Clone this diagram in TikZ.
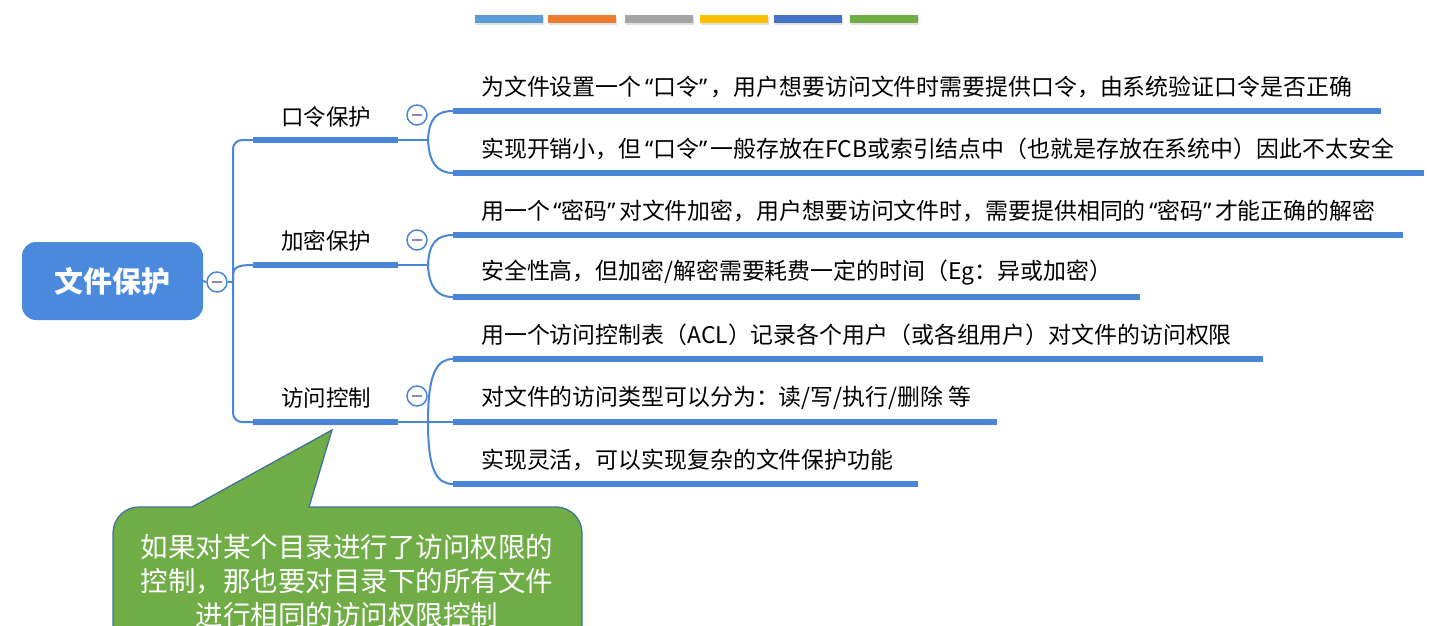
\documentclass[tikz,border=0pt]{standalone}
\usepackage{fontspec}
\setmainfont{Noto Sans CJK SC}
\newfontfamily\qfont{Noto Sans}
\newcommand{\lquo}{\kern3.5pt{\qfont “}}
\newcommand{\rquo}{{\qfont ”}\kern3.5pt}
\usetikzlibrary{shadows}
\definecolor{lineblue}{HTML}{4A86D8}
\definecolor{rootblue}{HTML}{4A89DC}
\definecolor{minuscol}{HTML}{8A8AB8}
\definecolor{cbA}{HTML}{5B9BD5}
\definecolor{cbB}{HTML}{ED7D31}
\definecolor{cbC}{HTML}{A5A5A5}
\definecolor{cbD}{HTML}{FFC000}
\definecolor{cbE}{HTML}{4472C4}
\definecolor{cbF}{HTML}{70AD47}
\definecolor{notegreen}{HTML}{70AD47}
\definecolor{noteborder}{HTML}{41719C}
\begin{document}
\begin{tikzpicture}[x=1pt,y=-1pt,
  conn/.style={draw=lineblue,line width=2pt},
  branchbar/.style={draw=lineblue,line width=6pt},
  leafbar/.style={draw=lineblue,line width=5.5pt},
  colorbar/.style={draw=none,drop shadow={opacity=0.25,shadow xshift=1pt,shadow yshift=-2pt}},
  rootbox/.style={fill=rootblue,rounded corners=14pt,minimum width=181pt,minimum height=78pt,
    text=white,font=\fontsize{29}{32}\selectfont\bfseries,inner sep=0pt},
  collapse/.style={circle,draw=lineblue,line width=1.5pt,fill=white,minimum size=20pt,inner sep=0pt,
    path picture={\draw[minuscol,line width=1.6pt]
      ([xshift=-5pt]path picture bounding box.center) -- ([xshift=5pt]path picture bounding box.center);}},
  branchtext/.style={font=\fontsize{22.5}{24}\selectfont,inner sep=0pt},
  leaftext/.style={font=\fontsize{22.9}{24}\selectfont,inner sep=0pt,anchor=west},
  notetext/.style={font=\fontsize{27.5}{34}\selectfont,text=white,align=center,inner sep=0pt}
]
\useasboundingbox (0,0) rectangle (1429,626);

% colour bars at the top
\fill[cbA,colorbar] (475,15) rectangle (543,23);
\fill[cbB,colorbar] (548,15) rectangle (616,23);
\fill[cbC,colorbar] (625,15) rectangle (693,23);
\fill[cbD,colorbar] (700,15) rectangle (768,23);
\fill[cbE,colorbar] (774,15) rectangle (842,23);
\fill[cbF,colorbar] (850,15) rectangle (918,23);

% coordinates
\coordinate (trunkmid) at (233,282);
\coordinate (b1s) at (253,140); \coordinate (b1e) at (398,140); \coordinate (b1j) at (428,140);
\coordinate (b2s) at (253,265); \coordinate (b2e) at (398,265); \coordinate (b2j) at (428,265);
\coordinate (b3s) at (253,422); \coordinate (b3e) at (398,422); \coordinate (b3j) at (428,422);
\coordinate (l1s) at (453,111); \coordinate (l1e) at (1381,111);
\coordinate (l2s) at (453,173); \coordinate (l2e) at (1424,173);
\coordinate (l3s) at (453,235); \coordinate (l3e) at (1403,235);
\coordinate (l4s) at (453,297); \coordinate (l4e) at (1140,297);
\coordinate (l5s) at (453,359); \coordinate (l5e) at (1263,359);
\coordinate (l6s) at (453,422); \coordinate (l6e) at (997,422);
\coordinate (l7s) at (453,484); \coordinate (l7e) at (918,484);

% root
\node[rootbox] (root) at (112.5,281) {文件保护};
\node[collapse] (c0) at (217,282) {};
\draw[conn] (root.east) -- (c0.west);
\draw[conn] (c0.east) -- (trunkmid);
\draw[conn,rounded corners=9pt] (b1s) -- (233,140) -- (233,422) -- (b3s);
\draw[conn] (trunkmid) -- (233,276) .. controls (233,267) and (238,265) .. (b2s);

% branches
\node[branchtext] (b1) at (326,117) {口令保护};
\node[branchtext] (b2) at (326,241) {加密保护};
\node[branchtext] (b3) at (326,398) {访问控制};
\node[collapse] (c1) at (417,115) {};
\node[collapse] (c2) at (417,240) {};
\node[collapse] (c3) at (417,396) {};

\draw[branchbar] (b1s) -- (b1e);
\draw[branchbar] (b2s) -- (b2e);
\draw[branchbar] (b3s) -- (b3e);
\draw[conn] (b1e) -- (b1j);
\draw[conn] (b2e) -- (b2j);
\draw[conn] (b3e) -- (b3j);

% leaf connectors
\draw[conn] (b1j) .. controls (429,118) and (437,111) .. (l1s);
\draw[conn] (b1j) .. controls (429,162) and (437,173) .. (l2s);
\draw[conn] (b2j) .. controls (429,243) and (437,235) .. (l3s);
\draw[conn] (b2j) .. controls (429,287) and (437,297) .. (l4s);
\draw[conn] (b3j) .. controls (428,375) and (436,359) .. (l5s);
\draw[conn] (b3j) -- (l6s);
\draw[conn] (b3j) .. controls (428,469) and (436,484) .. (l7s);

% leaf bars
\draw[leafbar] (l1s) -- (l1e);
\draw[leafbar] (l2s) -- (l2e);
\draw[leafbar] (l3s) -- (l3e);
\draw[leafbar] (l4s) -- (l4e);
\draw[leafbar] (l5s) -- (l5e);
\draw[leafbar] (l6s) -- (l6e);
\draw[leafbar] (l7s) -- (l7e);

% leaf texts
\node[leaftext] (t1) at (481,87) {为文件设置一个\lquo 口令\rquo ，用户想要访问文件时需要提供口令，由系统验证口令是否正确};
\node[leaftext] (t2) at (481,149) {实现开销小，但\lquo 口令\rquo 一般存放在FCB或索引结点中（也就是存放在系统中）因此不太安全};
\node[leaftext] (t3) at (481,211) {用一个\lquo 密码\rquo 对文件加密，用户想要访问文件时，需要提供相同的\lquo 密码\rquo 才能正确的解密};
\node[leaftext] (t4) at (481,273) {安全性高，但加密/解密需要耗费一定的时间（Eg：异或加密）};
\node[leaftext] (t5) at (481,335) {用一个访问控制表（ACL）记录各个用户（或各组用户）对文件的访问权限};
\node[leaftext] (t6) at (481,398) {对文件的访问类型可以分为：读/写/执行/删除 等};
\node[leaftext] (t7) at (481,460) {实现灵活，可以实现复杂的文件保护功能};

% callout
\draw[fill=notegreen,draw=noteborder,line width=1.3pt]
  (332,430) -- (309,507) [rounded corners=26pt] -- (582,507) -- (582,700) -- (113,700) -- (113,507)
  [sharp corners] -- (192,507) -- cycle;
\node[notetext] (note) at (347,581) {如果对某个目录进行了访问权限的\\控制，那也要对目录下的所有文件\\进行相同的访问权限控制};
\end{tikzpicture}
\end{document}
